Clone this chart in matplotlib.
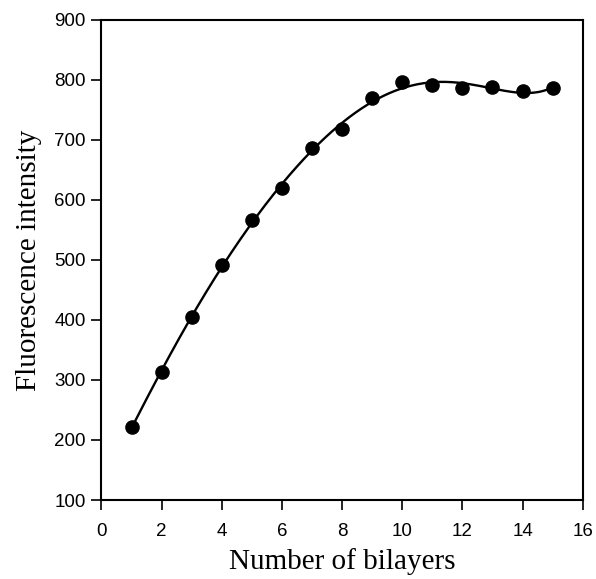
import numpy as np
import matplotlib
matplotlib.use('Agg')
import matplotlib.pyplot as plt

# Fluorescence vs. number of deposited bilayers
bilayers = [1, 2, 3, 4, 5, 6, 7, 8, 9, 10, 11, 12, 13, 14, 15]
intensity = [221, 314, 404, 492, 566, 619, 686, 718, 769, 796, 791, 787, 788, 781, 786]

x_ticks = [0, 2, 4, 6, 8, 10, 12, 14, 16]
y_ticks = [100, 200, 300, 400, 500, 600, 700, 800, 900]

fig = plt.figure(figsize=(5.96, 5.79), dpi=100)
ax = fig.add_axes([0.1703, 0.1364, 0.8074, 0.8296])

# smooth trend line through the measurements
coef = np.polyfit(bilayers, intensity, 6)
xs = np.linspace(bilayers[0], bilayers[-1], 300)
ax.plot(xs, np.polyval(coef, xs), color='black', linewidth=1.7, zorder=2)
ax.plot(bilayers, intensity, 'o', color='black', markersize=9.5, zorder=3)

ax.set_xlim(0, 16)
ax.set_ylim(100, 900)
ax.set_xticks(x_ticks)
ax.set_yticks(y_ticks)

for s in ax.spines.values():
    s.set_linewidth(1.5)
ax.tick_params(direction='out', length=7.5, width=1.2, labelsize=13.5)
ax.tick_params(axis='y', pad=4)
ax.tick_params(axis='x', pad=9)
for lab in ax.get_xticklabels() + ax.get_yticklabels():
    lab.set_family('Liberation Sans')

ax.set_xlabel('Number of bilayers', family='Liberation Serif', fontsize=21, labelpad=6)
ax.set_ylabel('Fluorescence intensity', family='Liberation Serif', fontsize=21, labelpad=9)

fig.savefig('out.png', dpi=100)
